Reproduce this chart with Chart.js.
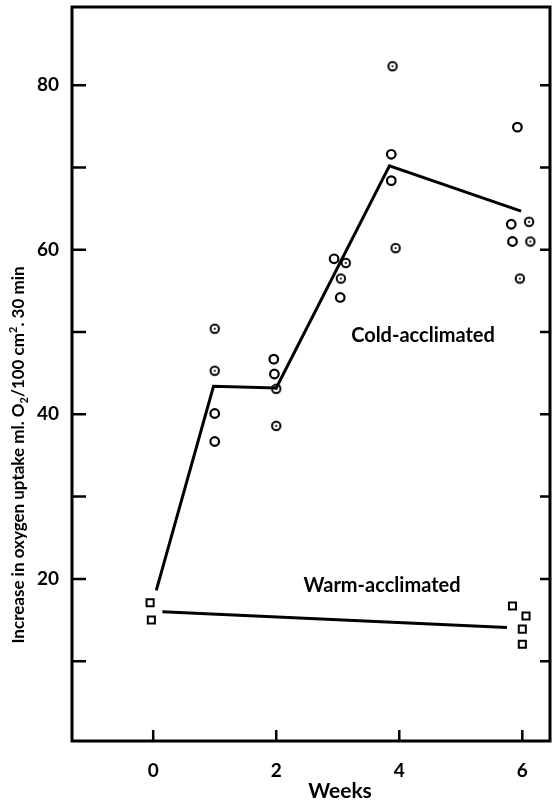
<!DOCTYPE html>
<html>
<head>
<meta charset="utf-8">
<script src="https://cdn.jsdelivr.net/npm/chart.js@4"></script>
<style>
  body { margin: 0; background: #fff; }
  #wrap { width: 557px; height: 802px; }
</style>
</head>
<body>
<div id="wrap"><canvas id="chart" width="557" height="802"></canvas></div>
<script>
// values (weeks, increase in O2 uptake)
const coldOpenX = [1.0, 1.0, 1.96, 1.97, 2.94, 3.04, 3.87, 3.87, 5.92, 5.82, 5.84];
const coldOpenY = [40.1, 36.7, 46.7, 44.9, 58.9, 54.2, 71.6, 68.4, 74.9, 63.1, 61.0];
const coldDotX = [1.0, 1.0, 2.0, 2.0, 3.13, 3.05, 3.89, 3.94, 6.11, 6.13, 5.96];
const coldDotY = [50.4, 45.3, 43.1, 38.6, 58.4, 56.5, 82.3, 60.2, 63.4, 61.0, 56.5];
const warmX = [-0.05, -0.03, 5.84, 6.06, 6.0, 6.0];
const warmY = [17.1, 15.0, 16.7, 15.5, 13.9, 12.05];
const coldLineX = [0.05, 0.98, 2.0, 3.84, 5.98];
const coldLineY = [18.6, 43.4, 43.2, 70.2, 64.7];
const warmLineX = [0.15, 5.75];
const warmLineY = [16.0, 14.1];

const xTicks = [0, 2, 4, 6];
const yTicks = [10, 20, 30, 40, 50, 60, 70, 80];
const yLabelled = [20, 40, 60, 80];

function pts(xs, ys) {
  return xs.map((x, i) => ({ x: x, y: ys[i] }));
}

// circle with a dot in the middle
const dotCircle = document.createElement('canvas');
dotCircle.width = 14; dotCircle.height = 14;
(function () {
  const c = dotCircle.getContext('2d');
  c.strokeStyle = '#000'; c.fillStyle = '#000'; c.lineWidth = 2;
  c.beginPath(); c.arc(7, 7, 4.2, 0, Math.PI * 2); c.stroke();
  c.beginPath(); c.arc(7, 7, 1.1, 0, Math.PI * 2); c.fill();
})();

const font = 'Lato, "Open Sans", sans-serif';

const frame = {
  id: 'frame',
  afterDraw(chart) {
    const ctx = chart.ctx, a = chart.chartArea;
    const xs = chart.scales.x, ys = chart.scales.y;
    ctx.save();
    ctx.strokeStyle = '#000';
    ctx.lineWidth = 3;
    ctx.strokeRect(a.left, a.top, a.right - a.left, a.bottom - a.top);
    ctx.lineWidth = 2.5;
    ctx.beginPath();
    xTicks.forEach(v => {
      const px = xs.getPixelForValue(v);
      ctx.moveTo(px, a.bottom); ctx.lineTo(px, a.bottom - 11);
    });
    yTicks.forEach(v => {
      const py = ys.getPixelForValue(v);
      ctx.moveTo(a.left, py); ctx.lineTo(a.left + 14, py);
      ctx.moveTo(a.right, py); ctx.lineTo(a.right - 10, py);
    });
    ctx.stroke();

    ctx.fillStyle = '#000';
    ctx.textAlign = 'center';
    ctx.textBaseline = 'middle';
    ctx.font = 'bold 20px ' + font;
    ctx.fillText('Cold-acclimated', 423, 336);
    ctx.fillText('Warm-acclimated', 382, 586);
    ctx.font = 'bold 21px ' + font;
    ctx.fillText('Weeks', 340, 791);

    // rotated y title with sub/superscript
    const big = 'bold 17px ' + font, small = 'bold 11px ' + font;
    const parts = [
      ['Increase in oxygen uptake ml. O', big, 0],
      ['2', small, 5],
      ['/100 cm', big, 0],
      ['2', small, -6],
      ['. 30 min', big, 0]
    ];
    let total = 0;
    parts.forEach(p => { ctx.font = p[1]; total += ctx.measureText(p[0]).width; });
    ctx.translate(19, 455);
    ctx.rotate(-Math.PI / 2);
    ctx.textAlign = 'left';
    let x = -total / 2;
    parts.forEach(p => {
      ctx.font = p[1];
      ctx.fillText(p[0], x, p[2]);
      x += ctx.measureText(p[0]).width;
    });
    ctx.restore();
  }
};

new Chart(document.getElementById('chart'), {
  type: 'scatter',
  data: {
    datasets: [
      {
        data: pts(coldLineX, coldLineY), showLine: true, pointRadius: 0,
        borderColor: '#000', borderWidth: 3
      },
      {
        data: pts(warmLineX, warmLineY), showLine: true, pointRadius: 0,
        borderColor: '#000', borderWidth: 3
      },
      {
        data: pts(coldOpenX, coldOpenY), pointStyle: 'circle', pointRadius: 4.3,
        borderColor: '#000', backgroundColor: '#fff', borderWidth: 2.2
      },
      {
        data: pts(coldDotX, coldDotY), pointStyle: dotCircle, pointRadius: 5
      },
      {
        data: pts(warmX, warmY), pointStyle: 'rect', pointRadius: 5,
        borderColor: '#000', backgroundColor: '#fff', borderWidth: 2
      }
    ]
  },
  options: {
    responsive: false,
    animation: false,
    layout: { padding: { top: 4, right: 1, left: 0, bottom: 0 } },
    plugins: { legend: { display: false }, tooltip: { enabled: false } },
    scales: {
      x: {
        type: 'linear', min: -1.32, max: 6.45,
        grid: { display: false }, border: { display: false },
        afterBuildTicks: s => { s.ticks = xTicks.map(v => ({ value: v })); },
        afterFit: s => { s.height = 61; s.paddingLeft = 0; s.paddingRight = 0; },
        ticks: { color: '#000', padding: 10, font: { family: font, size: 19, weight: 'bold' } }
      },
      y: {
        type: 'linear', min: 0.3, max: 89.5,
        grid: { display: false }, border: { display: false },
        afterBuildTicks: s => { s.ticks = yTicks.map(v => ({ value: v })); },
        afterFit: s => { s.width = 72; s.paddingTop = 0; s.paddingBottom = 0; },
        ticks: {
          color: '#000', padding: 5, font: { family: font, size: 19, weight: 'bold' },
          callback: v => yLabelled.includes(v) ? String(v) : ''
        }
      }
    }
  },
  plugins: [frame]
});
</script>
</body>
</html>
